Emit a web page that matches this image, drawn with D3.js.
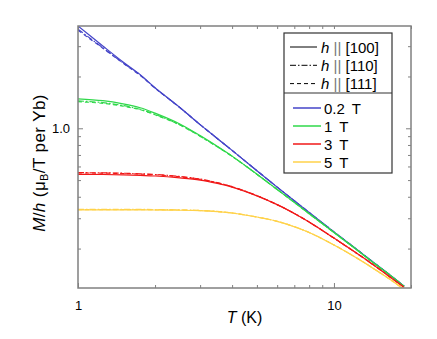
<!DOCTYPE html>
<html>
<head>
<meta charset="utf-8">
<script src="https://cdn.jsdelivr.net/npm/d3@7"></script>
<style>
  body { margin: 0; background: #fff; }
  svg text { font-family: "Liberation Sans", Arial, Helvetica, sans-serif; fill: #000; }
</style>
</head>
<body>
<div id="chart"></div>
<script>
// temperatures (K)
var temps = [1, 1.25, 1.5, 1.75, 2, 2.5, 3, 3.5, 4, 5, 6, 7, 8, 10, 12, 14, 16, 18.8];

// M/h values, one array per field and direction
var b02_100 = [3.93, 3.01, 2.43, 2.05, 1.72, 1.32, 1.05, 0.873, 0.744, 0.567, 0.455, 0.379, 0.324, 0.25, 0.203, 0.17, 0.146, 0.121];
var b02_110 = [3.76, 2.94, 2.40, 2.04, 1.715, 1.32, 1.05, 0.873, 0.744, 0.567, 0.455, 0.379, 0.324, 0.25, 0.203, 0.17, 0.146, 0.121];
var b02_111 = [3.71, 2.92, 2.39, 2.03, 1.71, 1.318, 1.05, 0.873, 0.744, 0.567, 0.455, 0.379, 0.324, 0.25, 0.203, 0.17, 0.146, 0.121];

var b1_100 = [1.484, 1.447, 1.387, 1.317, 1.225, 1.06, 0.907, 0.786, 0.689, 0.541, 0.441, 0.371, 0.319, 0.248, 0.202, 0.169, 0.1455, 0.1206];
var b1_110 = [1.442, 1.41, 1.355, 1.29, 1.205, 1.048, 0.90, 0.782, 0.687, 0.541, 0.441, 0.371, 0.319, 0.248, 0.202, 0.169, 0.1455, 0.1206];
var b1_111 = [1.428, 1.397, 1.345, 1.282, 1.198, 1.044, 0.898, 0.781, 0.687, 0.541, 0.441, 0.371, 0.319, 0.248, 0.202, 0.169, 0.1455, 0.1206];

var b3_100 = [0.54, 0.539, 0.536, 0.532, 0.528, 0.515, 0.50, 0.478, 0.455, 0.405, 0.36, 0.32, 0.285, 0.23, 0.192, 0.164, 0.142, 0.119];
var b3_110 = [0.552, 0.551, 0.548, 0.544, 0.539, 0.525, 0.507, 0.483, 0.458, 0.406, 0.36, 0.32, 0.285, 0.23, 0.192, 0.164, 0.142, 0.119];
var b3_111 = [0.55, 0.549, 0.546, 0.542, 0.537, 0.523, 0.505, 0.482, 0.457, 0.406, 0.36, 0.32, 0.285, 0.23, 0.192, 0.164, 0.142, 0.119];

var b5_100 = [0.336, 0.336, 0.336, 0.336, 0.335, 0.334, 0.332, 0.328, 0.322, 0.305, 0.288, 0.268, 0.248, 0.21, 0.18, 0.156, 0.137, 0.116];
var b5_110 = [0.338, 0.338, 0.338, 0.338, 0.337, 0.336, 0.333, 0.329, 0.322, 0.305, 0.288, 0.268, 0.248, 0.21, 0.18, 0.156, 0.137, 0.116];
var b5_111 = [0.337, 0.337, 0.337, 0.337, 0.336, 0.335, 0.3325, 0.3285, 0.322, 0.305, 0.288, 0.268, 0.248, 0.21, 0.18, 0.156, 0.137, 0.116];

var fieldLabels = ["0.2 T", "1 T", "3 T", "5 T"];
var fieldColors = ["#4545c8", "#2fd84a", "#f01818", "#ffd24a"];
var dirLabels = ["[100]", "[110]", "[111]"];
var dirDashes = [null, "6,2,1.5,2", "4,3"];

var xTicksMajor = [1, 10];
var xTicksMinor = [2, 3, 4, 5, 6, 7, 8, 9, 20];
var yTicksMajor = [1];
var yTicksMinor = [0.2, 0.3, 0.4, 0.5, 0.6, 0.7, 0.8, 0.9, 2, 3];

var svgWidth = 437, svgHeight = 339;
var margin = { top: 26, right: 26, bottom: 51, left: 78 };
var width = 333, height = svgHeight - margin.top - margin.bottom;

var svg = d3.select("#chart").append("svg")
    .attr("width", svgWidth)
    .attr("height", svgHeight);

var g = svg.append("g")
    .attr("transform", "translate(" + margin.left + "," + margin.top + ")");

var x = d3.scaleLog().domain([1, 20]).range([0, width]);
var y = d3.scaleLog().domain([0.118, 3.93]).range([height, 0]);

g.append("clipPath").attr("id", "clip")
    .append("rect").attr("width", width).attr("height", height);

var series = [
    [b02_100, b02_110, b02_111],
    [b1_100, b1_110, b1_111],
    [b3_100, b3_110, b3_111],
    [b5_100, b5_110, b5_111]
];

var line = d3.line()
    .x(function(d) { return x(d[0]); })
    .y(function(d) { return y(d[1]); })
    .curve(d3.curveCatmullRom.alpha(0.5));

var lines = g.append("g").attr("clip-path", "url(#clip)");
series.forEach(function(group, fi) {
    // draw dashed variants first, solid on top
    [2, 1, 0].forEach(function(di) {
        var pts = temps.map(function(t, i) { return [t, group[di][i]]; });
        lines.append("path")
            .datum(pts)
            .attr("d", line)
            .attr("fill", "none")
            .attr("stroke", fieldColors[fi])
            .attr("stroke-width", 1.2)
            .attr("stroke-dasharray", dirDashes[di]);
    });
});

// axes with inward ticks on all four sides
var axisColor = "#808080";
function styleAxis(sel) {
    sel.select(".domain").remove();
    sel.selectAll(".tick line").attr("stroke", axisColor).attr("stroke-width", 1);
    sel.selectAll(".tick text").attr("font-size", 13).attr("fill", "#000");
}

g.append("g").attr("transform", "translate(0," + height + ")")
    .call(d3.axisBottom(x).tickValues(xTicksMinor).tickSize(-3).tickFormat(""))
    .call(styleAxis);
g.append("g").attr("transform", "translate(0," + height + ")")
    .call(d3.axisBottom(x).tickValues(xTicksMajor).tickSize(-5).tickPadding(13).tickFormat(d3.format("d")))
    .call(styleAxis);
g.append("g")
    .call(d3.axisTop(x).tickValues(xTicksMinor.concat(xTicksMajor)).tickSize(-3).tickFormat(""))
    .call(styleAxis);

g.append("g")
    .call(d3.axisLeft(y).tickValues(yTicksMinor).tickSize(-3).tickFormat(""))
    .call(styleAxis);
g.append("g")
    .call(d3.axisLeft(y).tickValues(yTicksMajor).tickSize(-5).tickPadding(8).tickFormat(d3.format(".1f")))
    .call(styleAxis);
g.append("g").attr("transform", "translate(" + width + ",0)")
    .call(d3.axisRight(y).tickValues(yTicksMinor).tickSize(-3).tickFormat(""))
    .call(styleAxis);
g.append("g").attr("transform", "translate(" + width + ",0)")
    .call(d3.axisRight(y).tickValues(yTicksMajor).tickSize(-5).tickFormat(""))
    .call(styleAxis);

g.append("rect")
    .attr("width", width).attr("height", height)
    .attr("fill", "none")
    .attr("stroke", axisColor)
    .attr("stroke-width", 1.5);

// axis labels
var xl = g.append("text")
    .attr("text-anchor", "middle")
    .attr("x", width / 2)
    .attr("y", height + 35)
    .attr("font-size", 16);
xl.append("tspan").attr("font-style", "italic").text("T");
xl.append("tspan").text(" (K)");

var yl = g.append("text")
    .attr("text-anchor", "middle")
    .attr("transform", "rotate(-90)")
    .attr("x", -137)
    .attr("y", -33)
    .attr("font-size", 17)
    .attr("letter-spacing", 0.4);
yl.append("tspan").attr("font-style", "italic").text("M");
yl.append("tspan").text("/");
yl.append("tspan").attr("font-style", "italic").text("h");
yl.append("tspan").text(" (\u03bc");
yl.append("tspan").attr("font-size", 11).attr("dy", 3).text("B");
yl.append("tspan").attr("dy", -3).text("/T per Yb)");

// legend
var leg = svg.append("g");
leg.append("rect")
    .attr("x", 284).attr("y", 33)
    .attr("width", 108).attr("height", 140)
    .attr("fill", "#fff")
    .attr("stroke", "#333")
    .attr("stroke-width", 1.2);
leg.append("line")
    .attr("x1", 284).attr("x2", 392)
    .attr("y1", 93).attr("y2", 93)
    .attr("stroke", "#333").attr("stroke-width", 1.2);

dirLabels.forEach(function(lab, i) {
    var yy = 47 + i * 18.3;
    leg.append("line")
        .attr("x1", 290).attr("x2", 317)
        .attr("y1", yy).attr("y2", yy)
        .attr("stroke", "#000").attr("stroke-width", 1)
        .attr("stroke-dasharray", dirDashes[i]);
    var t = leg.append("text")
        .attr("x", 321).attr("y", yy + 5.5)
        .attr("font-size", 15);
    t.append("tspan").attr("font-style", "italic").text("h");
    t.append("tspan").attr("fill", "#777").text(" || ");
    t.append("tspan").text(lab);
});

fieldLabels.forEach(function(lab, i) {
    var yy = 108 + i * 18;
    leg.append("line")
        .attr("x1", 293).attr("x2", 321)
        .attr("y1", yy).attr("y2", yy)
        .attr("stroke", fieldColors[i]).attr("stroke-width", 1.5);
    leg.append("text")
        .attr("x", 324).attr("y", yy + 5.5)
        .attr("font-size", 15)
        .text(lab.replace(" ", "\u2009 "));
});
</script>
</body>
</html>
